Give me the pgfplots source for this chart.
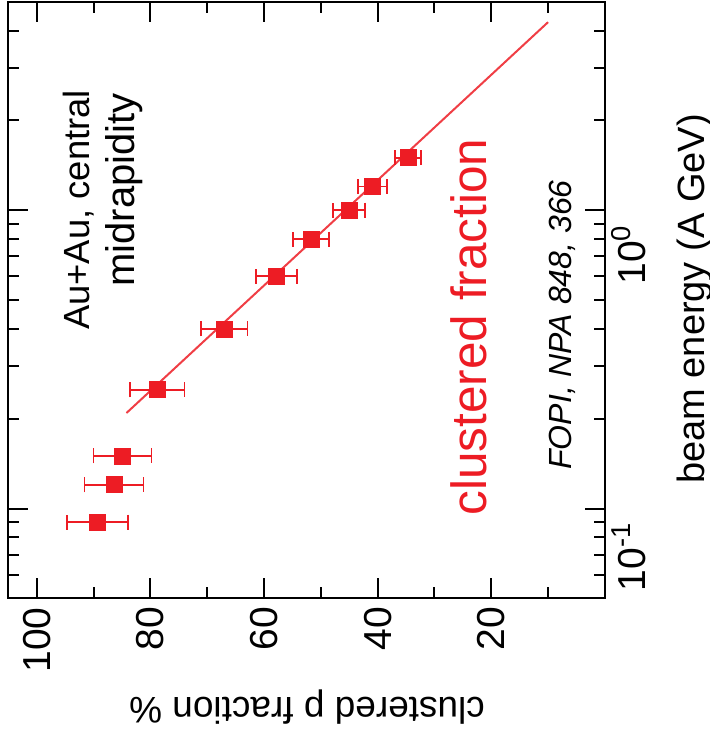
\documentclass[border=0pt]{standalone}
\usepackage{fontspec}
\setmainfont{Liberation Sans}
\usepackage{pgfplots}
\usepackage{pgfplotstable}
\pgfplotsset{compat=1.18}
\definecolor{fopired}{HTML}{ED1C24}

% FOPI clustered proton fraction, Au+Au central, midrapidity
% E = beam energy (A GeV), p = clustered fraction (%), dp = error (%)
\pgfplotstableread{
E     p     dp
0.09  89.3  5.4
0.12  86.4  5.2
0.15  84.9  5.1
0.25  78.8  4.8
0.40  67.0  4.1
0.60  57.8  3.6
0.80  51.7  3.2
1.00  45.0  2.8
1.20  40.9  2.6
1.50  34.6  2.3
}\fopidata

\begin{document}
\begin{tikzpicture}
\path[use as bounding box] (-4.15pt,-69.35pt) rectangle (350.85pt,299.15pt);
\begin{axis}[
  at={(0pt,0pt)}, anchor=south west,
  width=298.3pt, height=298.3pt, scale only axis,
  x dir=reverse, xmin=0, xmax=105,
  ymode=log, ymin=0.05, ymax=5,
  xtick={20,40,60,80,100}, xticklabels={},
  minor xtick={10,30,50,70,90},
  ytick={0.1,1}, yticklabels={},
  minor ytick={0.06,0.07,0.08,0.09,0.2,0.3,0.4,0.5,0.6,0.7,0.8,0.9,2,3,4},
  xtick pos=both, ytick pos=both,
  tick align=inside,
  major tick length=10pt, minor tick length=5.5pt,
  tick style={black, line width=1pt},
  axis line style={line width=1pt},
]
% straight-line trend in log(E)
\addplot[fopired, opacity=0.85, line width=1pt] coordinates {(84.2,0.209) (10.0,4.27)};
% measured points with horizontal error bars
\addplot[fopired, only marks, mark=square*, mark size=4pt,
  error bars/.cd, x dir=both, x explicit,
  error bar style={line width=0.9pt, fopired},
  error mark options={rotate=90, line width=0.9pt, mark size=3.75pt, fopired}]
  table[x=p, y=E, x error=dp] {\fopidata};
% tick label anchors
\coordinate (p100) at (axis cs:100,0.05);
\coordinate (p80)  at (axis cs:80,0.05);
\coordinate (p60)  at (axis cs:60,0.05);
\coordinate (p40)  at (axis cs:40,0.05);
\coordinate (p20)  at (axis cs:20,0.05);
\coordinate (e01)  at (axis cs:0,0.1);
\coordinate (e1)   at (axis cs:0,1);
\end{axis}
% tick labels, turned with the text
\tikzset{tl/.style={font=\fontsize{19.5}{22}\selectfont, inner sep=0pt}}
\foreach \c/\t in {p100/100, p80/80, p60/60, p40/40, p20/20}
  \node[tl, rotate=90, anchor=east] at ([yshift=-4.3pt]\c) {\t};
\node[tl, rotate=90, anchor=north east] at ([xshift=3pt, yshift=-6.8pt]e01) {10\textsuperscript{-1}};
\node[tl, rotate=90, anchor=north east] at ([xshift=3pt, yshift=-7.2pt]e1) {10\textsuperscript{0}};
% annotations
\node[rotate=90, anchor=base east, font=\fontsize{18.2}{22}\selectfont] at (40.35pt,257.65pt) {Au+Au, central};
\node[rotate=90, anchor=base east, font=\fontsize{20}{24}\selectfont] at (62.85pt,256.15pt) {midrapidity};
\node[rotate=90, anchor=base, text=fopired, font=\fontsize{24.75}{28}\selectfont] at (238.85pt,135.65pt) {clustered fraction};
\node[rotate=90, anchor=base, font=\fontsize{16}{19}\selectfont\itshape] at (281.35pt,136.65pt) {FOPI, NPA 848, 366};
% axis titles
\node[rotate=90, anchor=base, font=\fontsize{19}{22}\selectfont] at (347.85pt,149.65pt) {beam energy (A GeV)};
\node[rotate=180, anchor=base, font=\fontsize{18.5}{22}\selectfont] at (149.35pt,-49.35pt) {clustered p fraction \%};
\end{tikzpicture}
\end{document}
